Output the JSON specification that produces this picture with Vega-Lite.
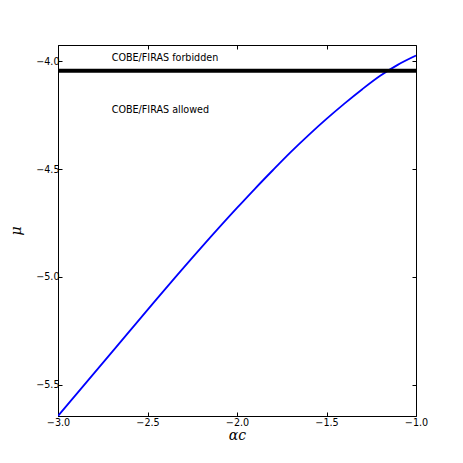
{
  "$schema": "https://vega.github.io/schema/vega-lite/v6.json",
  "width": 358,
  "height": 371,
  "autosize": "none",
  "padding": {"left": 58, "top": 45, "right": 47, "bottom": 47},
  "background": "white",
  "config": {
    "view": {"stroke": "black", "strokeWidth": 1},
    "axis": {
      "grid": false,
      "domainColor": "black",
      "tickColor": "black",
      "tickSize": -4,
      "labelColor": "black",
      "labelFont": "DejaVu Sans",
      "labelFontSize": 9.6,
      "titleColor": "black",
      "titleFont": "DejaVu Serif",
      "titleFontStyle": "italic",
      "titleFontWeight": "normal",
      "titleFontSize": 14
    }
  },
  "datasets": {
    "curve": [
      {"alpha": -3.0, "mu": -5.645},
      {"alpha": -2.7, "mu": -5.35},
      {"alpha": -2.4, "mu": -5.055},
      {"alpha": -2.2, "mu": -4.864},
      {"alpha": -2.0, "mu": -4.68},
      {"alpha": -1.9, "mu": -4.591},
      {"alpha": -1.8, "mu": -4.505},
      {"alpha": -1.7, "mu": -4.421},
      {"alpha": -1.6, "mu": -4.342},
      {"alpha": -1.5, "mu": -4.267},
      {"alpha": -1.4, "mu": -4.196},
      {"alpha": -1.3, "mu": -4.129},
      {"alpha": -1.2, "mu": -4.067},
      {"alpha": -1.1, "mu": -4.015},
      {"alpha": -1.0, "mu": -3.973}
    ],
    "labels": [
      {"alpha": -2.7, "mu": -4.0, "label": "COBE/FIRAS forbidden"},
      {"alpha": -2.7, "mu": -4.24, "label": "COBE/FIRAS allowed"}
    ],
    "limit": [
      {"mu": -4.043}
    ]
  },
  "layer": [
    {
      "data": {"name": "curve"},
      "mark": {"type": "line", "color": "#0000ff", "strokeWidth": 1.8, "interpolate": "monotone", "clip": true},
      "encoding": {
        "x": {
          "field": "alpha", "type": "quantitative",
          "scale": {"domain": [-3.0, -1.0], "nice": false, "zero": false},
          "axis": {"orient": "bottom", "values": [-3.0, -2.5, -2.0, -1.5, -1.0], "format": ".1f", "title": "αc", "labelPadding": 5, "titlePadding": 2, "labelFlush": false}
        },
        "y": {
          "field": "mu", "type": "quantitative",
          "scale": {"domain": [-5.645, -3.924], "nice": false, "zero": false},
          "axis": {"orient": "left", "values": [-5.5, -5.0, -4.5, -4.0], "format": ".1f", "title": "μ", "labelPadding": 3, "titlePadding": 12, "labelFlush": false}
        }
      }
    },
    {
      "data": {"name": "limit"},
      "mark": {"type": "rule", "color": "black", "strokeWidth": 4},
      "encoding": {
        "y": {"field": "mu", "type": "quantitative", "axis": null}
      }
    },
    {
      "data": {"name": "labels"},
      "mark": {"type": "text", "align": "left", "baseline": "alphabetic", "font": "DejaVu Sans", "fontSize": 9.6, "color": "black"},
      "encoding": {
        "x": {
          "field": "alpha", "type": "quantitative",
          "axis": {"orient": "top", "values": [-3.0, -2.5, -2.0, -1.5, -1.0], "labels": false, "title": null, "domain": false}
        },
        "y": {
          "field": "mu", "type": "quantitative",
          "axis": {"orient": "right", "values": [-5.5, -5.0, -4.5, -4.0], "labels": false, "title": null, "domain": false}
        },
        "text": {"field": "label"}
      }
    }
  ],
  "resolve": {"axis": {"x": "independent", "y": "independent"}}
}
